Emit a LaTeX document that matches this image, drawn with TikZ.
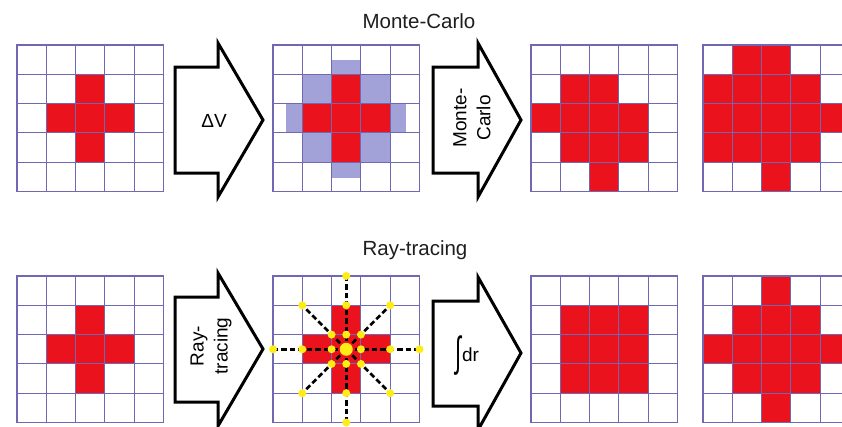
\documentclass[tikz,border=0pt]{standalone}
\usepackage{fontspec}
\usepackage{graphicx}
\setmainfont{Liberation Sans}
\definecolor{gridc}{RGB}{112,104,178}
\definecolor{cellred}{RGB}{234,18,28}
\definecolor{cellblue}{RGB}{162,162,216}
\definecolor{dotyellow}{RGB}{255,236,20}
\definecolor{titlec}{RGB}{30,30,30}
\def\cellsz{29.3}
\newcommand\cellgrid[2]{%
  \foreach \ii in {0,...,5}{%
    \draw[gridline] ({#1+\ii*\cellsz},#2) -- ({#1+\ii*\cellsz},{#2+5*\cellsz});
    \draw[gridline] (#1,{#2+\ii*\cellsz}) -- ({#1+5*\cellsz},{#2+\ii*\cellsz});
  }}
\newcommand\fillcells[4]{%
  \foreach \cc/\rr in {#4}{%
    \fill[#3] ({#1+\cc*\cellsz},{#2+\rr*\cellsz}) rectangle ++(\cellsz,\cellsz);
  }}
\begin{document}
\begin{tikzpicture}[x=1pt,y=-1pt,
  gridline/.style={draw=gridc, line width=1.1pt, line cap=rect},
  blockarrow/.style={draw=black, fill=white, line width=3pt, line join=miter},
  ray/.style={draw=black, dash pattern=on 5.5pt off 3pt, line width=2.5pt},
  ydot/.style={circle, fill=dotyellow, inner sep=0pt, minimum size=8pt},
  bigdot/.style={circle, fill=dotyellow, inner sep=0pt, minimum size=13pt},
  titletext/.style={font=\fontsize{20.5}{24}\selectfont, text=titlec},
  arrowtext/.style={font=\fontsize{19}{24}\selectfont, align=center, text=black}
]
\path[use as bounding box] (0,0) rectangle (842,426);
\clip (0,0) rectangle (842,426);

% ---------- titles ----------
\node[titletext, anchor=base] (t1) at (419,28) {Monte-Carlo};
\node[titletext, anchor=base] (t2) at (415,255) {Ray-tracing};

% ---------- top row ----------
% grid 1
\fillcells{17}{45}{cellred}{2/1,1/2,2/2,3/2,2/3}
\cellgrid{17}{45}
% grid 2
\fillcells{273}{45}{cellblue}{1/1,3/1,1/3,3/3}
\fill[cellblue] ({273+2*\cellsz},{45+\cellsz-14}) rectangle ++(\cellsz,14);
\fill[cellblue] ({273+2*\cellsz},{45+4*\cellsz}) rectangle ++(\cellsz,16);
\fill[cellblue] ({273+\cellsz-16},{45+2*\cellsz}) rectangle ++(16,\cellsz);
\fill[cellblue] ({273+4*\cellsz},{45+2*\cellsz}) rectangle ++(16,\cellsz);
\fillcells{273}{45}{cellred}{2/1,1/2,2/2,3/2,2/3}
\cellgrid{273}{45}
% grid 3
\fillcells{531}{45}{cellred}{1/1,2/1,0/2,1/2,2/2,3/2,1/3,2/3,3/3,2/4}
\cellgrid{531}{45}
% grid 4
\fillcells{703}{45}{cellred}{1/0,2/0,0/1,1/1,2/1,3/1,0/2,1/2,2/2,3/2,4/2,0/3,1/3,2/3,3/3,2/4}
\cellgrid{703}{45}

% arrows top
\draw[blockarrow] (175,67) -- (218,67) -- (218,43) -- (263,120) -- (218,197) -- (218,173) -- (175,173) -- cycle;
\node[arrowtext] (a1) at (214,121) {ΔV};
\draw[blockarrow] (433,67) -- (478,67) -- (478,43) -- (521,120) -- (478,197) -- (478,173) -- (433,173) -- cycle;
\node[arrowtext, rotate=90] (a2) at (472,118) {Monte-\\Carlo};

% ---------- bottom row ----------
\fillcells{17}{276}{cellred}{2/1,1/2,2/2,3/2,2/3}
\cellgrid{17}{276}
% grid 2 with rays
\fillcells{273}{276}{cellred}{2/1,1/2,2/2,3/2,2/3}
\cellgrid{273}{276}
\begin{scope}[shift={(273,276)}]
  \coordinate (rc) at ({2.5*\cellsz},{2.5*\cellsz});
  \coordinate (rN) at ({2.5*\cellsz},0);
  \coordinate (rS) at ({2.5*\cellsz},{5*\cellsz});
  \coordinate (rW) at (0,{2.5*\cellsz});
  \coordinate (rE) at ({5*\cellsz},{2.5*\cellsz});
  \coordinate (rNW) at (\cellsz,\cellsz);
  \coordinate (rNE) at ({4*\cellsz},\cellsz);
  \coordinate (rSW) at (\cellsz,{4*\cellsz});
  \coordinate (rSE) at ({4*\cellsz},{4*\cellsz});
  \foreach \e in {rN,rS,rW,rE,rNW,rNE,rSW,rSE}{\draw[ray] (rc) -- (\e);}
  \foreach \px/\py [count=\k] in {2.5/0,2.5/1,2.5/4,2.5/5,0/2.5,1/2.5,4/2.5,5/2.5,1/1,4/1,1/4,4/4,2/2,2.5/2,3/2,2/2.5,3/2.5,2/3,2.5/3,3/3}{
    \node[ydot] (d\k) at ({\px*\cellsz},{\py*\cellsz}) {};
  }
  \node[bigdot] (dc) at (rc) {};
\end{scope}
% grid 3
\fillcells{531}{276}{cellred}{1/1,2/1,3/1,1/2,2/2,3/2,1/3,2/3,3/3}
\cellgrid{531}{276}
% grid 4
\fillcells{703}{276}{cellred}{2/0,1/1,2/1,3/1,0/2,1/2,2/2,3/2,4/2,1/3,2/3,3/3,2/4}
\cellgrid{703}{276}

% arrows bottom
\draw[blockarrow] (175,297) -- (218,297) -- (218,273) -- (263,349) -- (218,426) -- (218,402) -- (175,402) -- cycle;
\node[arrowtext, rotate=90] (a3) at (211,346) {Ray-\\tracing};
\draw[blockarrow] (433,301) -- (478,301) -- (478,277) -- (521,353) -- (478,430) -- (478,406) -- (433,406) -- cycle;
\node[arrowtext] (a4) at (467,356) {\raisebox{-0.3em}{\scalebox{1.15}[2.2]{∫}}\kern0.05em dr};
\end{tikzpicture}
\end{document}
